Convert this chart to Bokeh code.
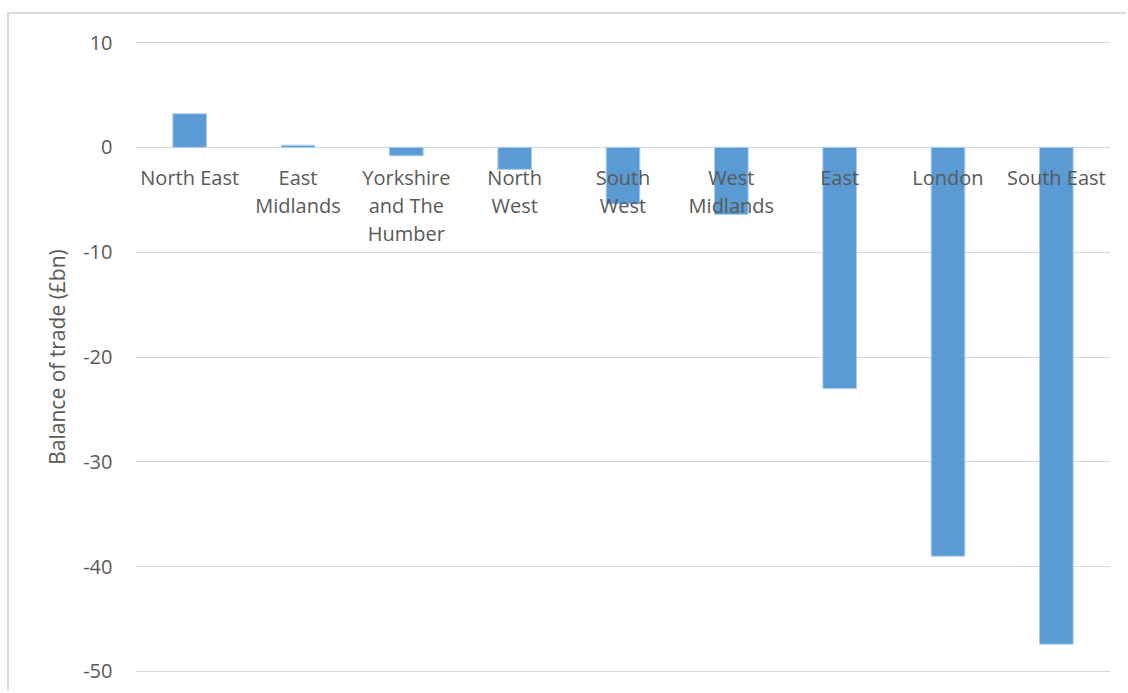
from bokeh.plotting import figure
from bokeh.models import Range1d, FactorRange, FixedTicker, ColumnDataSource
from bokeh.core.properties import value
from bokeh.embed import file_html
from bokeh.resources import INLINE

# Balance of trade by UK region (£bn)
regions = ["North East", "East Midlands", "Yorkshire and The Humber", "North West",
           "South West", "West Midlands", "East", "London", "South East"]
region_labels = ["North East", "East\nMidlands", "Yorkshire\nand The\nHumber", "North\nWest",
                 "South\nWest", "West\nMidlands", "East", "London", "South East"]
balance = [3.2, 0.2, -0.8, -2.1, -5.4, -6.4, -23.0, -39.0, -47.4]
y_ticks = [-50, -40, -30, -20, -10, 0, 10]

FONT = "Open Sans"
GREY = "#595959"

src = ColumnDataSource(dict(region=regions, balance=balance,
                            label=region_labels, zero=[0] * len(regions)))

p = figure(x_range=FactorRange(*regions, range_padding=0),
           y_range=Range1d(-50.1, 10.1),
           width=1119, height=679,
           min_border_left=126, min_border_right=18,
           min_border_top=27, min_border_bottom=21,
           output_backend="svg", toolbar_location=None)
p.margin = (12, 0, 0, 7)
p.styles = {"border-top": "2px solid #D9D9D9", "border-left": "2px solid #D9D9D9"}

p.background_fill_color = "white"
p.border_fill_color = "white"
p.outline_line_color = None

p.vbar(x="region", top="balance", bottom=0, width=0.31, source=src,
       fill_color="#5B9BD5", line_color="#A9CBEA", line_width=1)

# region names sit just under the zero line, drawn over the bars
p.text(x="region", y="zero", text="label", source=src,
       text_align="center", text_baseline="top", y_offset=17,
       text_font=value(FONT), text_font_size="20px", text_color=GREY,
       text_line_height=1.03)

p.xaxis.visible = False
p.xgrid.grid_line_color = None

p.yaxis.ticker = FixedTicker(ticks=y_ticks)
p.yaxis.major_label_overrides = {t: str(t) for t in y_ticks}
p.yaxis.axis_line_color = None
p.yaxis.major_tick_line_color = None
p.yaxis.minor_tick_line_color = None
p.yaxis.major_tick_out = 0
p.yaxis.major_tick_in = 0
p.yaxis.major_label_standoff = 23
p.yaxis.major_label_text_font = FONT
p.yaxis.major_label_text_font_size = "20px"
p.yaxis.major_label_text_color = GREY
p.yaxis.axis_label = "Balance of trade (£bn)"
p.yaxis.axis_label_standoff = 9
p.yaxis.axis_label_text_font = FONT
p.yaxis.axis_label_text_font_size = "21px"
p.yaxis.axis_label_text_font_style = "normal"
p.yaxis.axis_label_text_color = GREY

p.ygrid.ticker = FixedTicker(ticks=y_ticks)
p.ygrid.grid_line_color = "#D9D9D9"
p.ygrid.grid_line_width = 1

open("out.html", "w").write(file_html(p, INLINE))
